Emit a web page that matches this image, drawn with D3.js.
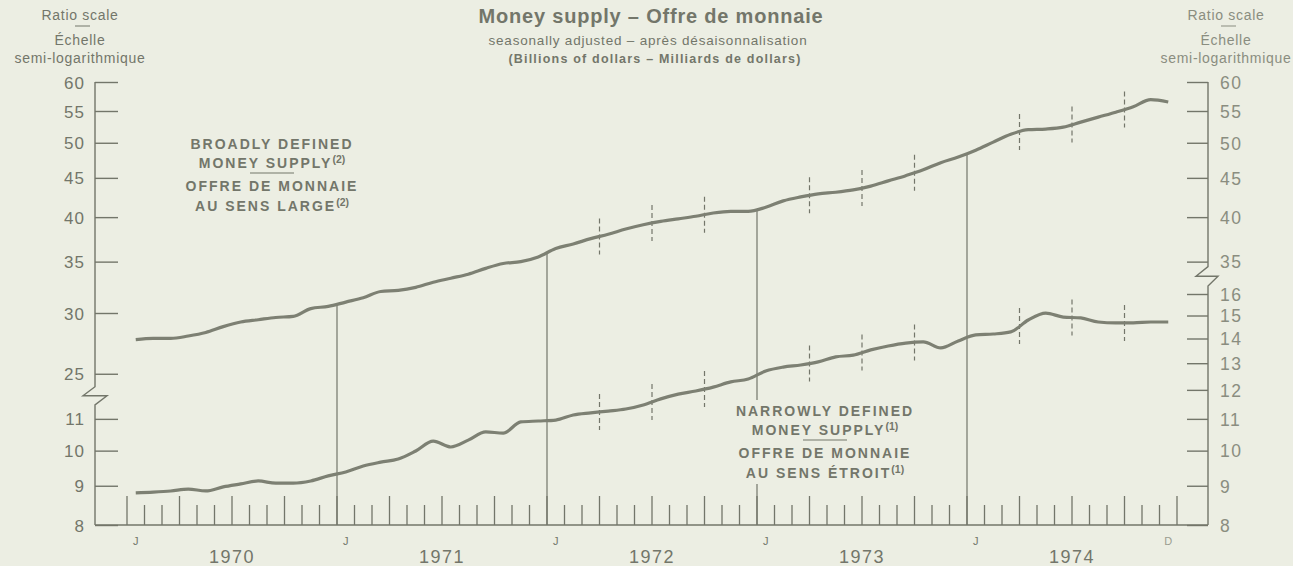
<!DOCTYPE html>
<html>
<head>
<meta charset="utf-8">
<script src="https://cdn.jsdelivr.net/npm/d3@7"></script>
<style>
  html, body { margin: 0; padding: 0; background: #eceee3; }
  svg { display: block; font-family: "Liberation Sans", Arial, sans-serif; }
</style>
</head>
<body>
<div id="chart"></div>
<script>
// monthly data, January 1970 to December 1974 (billions of dollars)
const years = [1970, 1971, 1972, 1973, 1974];
const monthLetters = ["J", "F", "M", "A", "M", "J", "J", "A", "S", "O", "N", "D"];

const broadValues = [
    27.7, 27.8, 27.8, 28.0, 28.3, 28.8, 29.2, 29.4, 29.6, 29.7, 30.4, 30.6,
    31.0, 31.4, 32.0, 32.1, 32.4, 32.9, 33.3, 33.7, 34.3, 34.8, 35.0, 35.5,
    36.4, 36.9, 37.5, 38.0, 38.6, 39.1, 39.5, 39.8, 40.1, 40.5, 40.7, 40.7,
    41.2, 42.0, 42.5, 42.9, 43.1, 43.4, 43.9, 44.6, 45.3, 46.1, 47.1, 47.9,
    48.9, 50.1, 51.3, 52.0, 52.1, 52.4, 53.2, 54.0, 54.8, 55.7, 56.9, 56.5
];
const narrowValues = [
    8.81, 8.83, 8.86, 8.91, 8.86, 8.97, 9.05, 9.13, 9.07, 9.07, 9.13, 9.27,
    9.38, 9.55, 9.66, 9.75, 9.99, 10.29, 10.11, 10.32, 10.58, 10.54, 10.90, 10.93,
    10.96, 11.13, 11.20, 11.26, 11.33, 11.47, 11.68, 11.85, 11.96, 12.10, 12.29, 12.40,
    12.70, 12.85, 12.93, 13.05, 13.25, 13.32, 13.53, 13.69, 13.81, 13.86, 13.61, 13.90,
    14.15, 14.19, 14.28, 14.80, 15.11, 14.93, 14.89, 14.71, 14.67, 14.67, 14.71, 14.71
];

// tick labels
const leftBroadTicks = [25, 30, 35, 40, 45, 50, 55, 60];
const leftNarrowTicks = [8, 9, 10, 11];
const rightBroadTicks = [35, 40, 45, 50, 55, 60];
const rightNarrowTicks = [8, 9, 10, 11, 12, 13, 14, 15, 16];

// quarter boundaries (month index) marked with dashes, and year boundaries with a rule
const dashedQuarters = [27, 30, 33, 39, 42, 45, 51, 54, 57];
const yearRules = [12, 24, 36, 48];

const width = 1293, height = 566;
const ink = "#73766a";
const lightInk = "#8a8d80";
const lineInk = "#7d8073";
const bg = "#eceee3";

const svg = d3.select("#chart").append("svg")
    .attr("width", width)
    .attr("height", height);

svg.append("rect").attr("width", width).attr("height", height).attr("fill", bg);

// scales: months on x, two ratio scales sharing the same doubling height
const x = d3.scaleLinear().domain([0, 60]).range([127, 1177]);
const yBroad = d3.scaleLog().domain([30, 60]).range([313, 82]);
const yNarrow = d3.scaleLog().domain([8, 16]).range([525, 294]);

const axisLeftX = 95, axisRightX = 1208;

// value on a quarter/year boundary, between two mid-month points
const atBoundary = (vals, k) => Math.sqrt(vals[k - 1] * vals[k]);

// ---------- axes ----------
const leftG = svg.append("g").attr("transform", `translate(${axisLeftX},0)`);
leftG.append("g").call(d3.axisLeft(yBroad).tickValues(leftBroadTicks)
    .tickSizeInner(-23).tickSizeOuter(0).tickPadding(10).tickFormat(d3.format("d")));
leftG.append("g").call(d3.axisLeft(yNarrow).tickValues(leftNarrowTicks)
    .tickSizeInner(-23).tickSizeOuter(0).tickPadding(10).tickFormat(d3.format("d")));

const rightG = svg.append("g").attr("transform", `translate(${axisRightX},0)`);
rightG.append("g").call(d3.axisRight(yBroad).tickValues(rightBroadTicks)
    .tickSizeInner(-21).tickSizeOuter(0).tickPadding(12).tickFormat(d3.format("d")));
rightG.append("g").call(d3.axisRight(yNarrow).tickValues(rightNarrowTicks)
    .tickSizeInner(-21).tickSizeOuter(0).tickPadding(12).tickFormat(d3.format("d")));

svg.selectAll(".domain").remove();
svg.selectAll(".tick line").attr("stroke", ink).attr("stroke-width", 1.4);
leftG.selectAll(".tick text").attr("fill", ink)
    .style("font-size", "17px").style("letter-spacing", "1px").attr("dy", "0.36em");
rightG.selectAll(".tick text").attr("fill", lightInk)
    .style("font-size", "17.5px").style("letter-spacing", "1.5px").attr("dy", "0.36em");

// axis spines with scale breaks
const spine = svg.append("g").attr("fill", "none").attr("stroke", ink).attr("stroke-width", 1.4);
const lBreakTop = yBroad(25) + 13, lBreakBot = yNarrow(11) - 14;
spine.append("path").attr("d",
    `M${axisLeftX},${yBroad(60)} V${lBreakTop} L${axisLeftX - 12},${(lBreakTop + lBreakBot) / 2} ` +
    `L${axisLeftX + 12},${(lBreakTop + lBreakBot) / 2} L${axisLeftX},${lBreakBot} V${yNarrow(8)}`);
const rBreakTop = yBroad(35) + 5, rBreakBot = yNarrow(16) - 8;
spine.append("path").attr("d",
    `M${axisRightX},${yBroad(60)} V${rBreakTop} L${axisRightX - 12},${(rBreakTop + rBreakBot) / 2} ` +
    `L${axisRightX + 10},${(rBreakTop + rBreakBot) / 2} L${axisRightX},${rBreakBot} V${yNarrow(8)}`);
spine.append("line")
    .attr("x1", axisLeftX).attr("x2", axisRightX)
    .attr("y1", yNarrow(8)).attr("y2", yNarrow(8));

// monthly ticks along the bottom, taller at each quarter
svg.append("g").selectAll("line")
    .data(d3.range(61))
    .join("line")
    .attr("x1", d => x(d)).attr("x2", d => x(d))
    .attr("y1", yNarrow(8))
    .attr("y2", d => yNarrow(8) - (d % 3 === 0 ? 29 : 20))
    .attr("stroke", ink).attr("stroke-width", 1.3);

// year rules up to the broad series
svg.append("g").selectAll("line")
    .data(yearRules)
    .join("line")
    .attr("x1", d => x(d)).attr("x2", d => x(d))
    .attr("y1", yNarrow(8))
    .attr("y2", d => yBroad(atBoundary(broadValues, d)))
    .attr("stroke", ink).attr("stroke-width", 1.2);

// dashed quarter marks crossing each series
const dashG = svg.append("g").attr("stroke", ink).attr("stroke-width", 1.2).attr("stroke-dasharray", "5,3");
[[broadValues, yBroad], [narrowValues, yNarrow]].forEach(([vals, y]) => {
    dashG.append("g").selectAll("line")
        .data(dashedQuarters)
        .join("line")
        .attr("x1", d => x(d)).attr("x2", d => x(d))
        .attr("y1", d => y(atBoundary(vals, d)) - 18)
        .attr("y2", d => y(atBoundary(vals, d)) + 18);
});

// ---------- series ----------
const lineBroad = d3.line().x((d, i) => x(i + 0.5)).y(d => yBroad(d)).curve(d3.curveMonotoneX);
const lineNarrow = d3.line().x((d, i) => x(i + 0.5)).y(d => yNarrow(d)).curve(d3.curveMonotoneX);

svg.append("path").datum(broadValues)
    .attr("d", lineBroad)
    .attr("fill", "none").attr("stroke", lineInk).attr("stroke-width", 3.2).attr("stroke-linejoin", "round");
svg.append("path").datum(narrowValues)
    .attr("d", lineNarrow)
    .attr("fill", "none").attr("stroke", lineInk).attr("stroke-width", 3.2).attr("stroke-linejoin", "round");

// ---------- x labels ----------
const xLab = svg.append("g").attr("fill", ink).attr("text-anchor", "middle");
xLab.selectAll("text.jan")
    .data(years)
    .join("text")
    .attr("class", "jan")
    .attr("x", (d, i) => x(i * 12 + 0.5))
    .attr("y", 545)
    .style("font-size", "11px")
    .text(monthLetters[0]);
xLab.append("text")
    .attr("x", x(59.5)).attr("y", 545)
    .style("font-size", "11px").attr("fill", "#9a9d90")
    .text(monthLetters[11]);
xLab.selectAll("text.year")
    .data(years)
    .join("text")
    .attr("class", "year")
    .attr("x", (d, i) => x(i * 12 + 6))
    .attr("y", 563)
    .style("font-size", "18px")
    .style("letter-spacing", "1.5px")
    .text(d => d);

// ---------- titles ----------
const titles = svg.append("g").attr("fill", ink).attr("text-anchor", "middle");
titles.append("text").attr("x", 651).attr("y", 23)
    .style("font-size", "20px").style("font-weight", "bold").style("letter-spacing", "0.8px")
    .text("Money supply – Offre de monnaie");
titles.append("text").attr("x", 648).attr("y", 45)
    .style("font-size", "13.5px").style("letter-spacing", "0.8px")
    .text("seasonally adjusted – après désaisonnalisation");
titles.append("text").attr("x", 655).attr("y", 63)
    .style("font-size", "12.5px").style("font-weight", "bold").style("letter-spacing", "1.2px")
    .text("(Billions of dollars – Milliards de dollars)");

function scaleHeader(cx, color) {
    const g = svg.append("g").attr("fill", color).attr("text-anchor", "middle")
        .style("font-size", "14px").style("letter-spacing", "0.7px");
    g.append("text").attr("x", cx).attr("y", 20).text("Ratio scale");
    g.append("line").attr("x1", cx - 5).attr("x2", cx + 10).attr("y1", 26).attr("y2", 26)
        .attr("stroke", color).attr("stroke-width", 1);
    g.append("text").attr("x", cx).attr("y", 45).text("Échelle");
    g.append("text").attr("x", cx).attr("y", 63).text("semi-logarithmique");
}
scaleHeader(80, ink);
scaleHeader(1226, lightInk);

// series labels, with a note marker and a rule between the languages
function seriesLabel(cx, top, lines, note, mask) {
    const g = svg.append("g");
    if (mask) {
        g.append("rect").attr("x", cx - 92).attr("y", top - 16).attr("width", 184).attr("height", 84).attr("fill", bg);
    }
    const t = g.append("g").attr("fill", ink).attr("text-anchor", "middle")
        .style("font-size", "14px").style("font-weight", "bold").style("letter-spacing", "2px");
    const gaps = [0, 19, 42, 62];
    lines.forEach((s, i) => {
        const txt = t.append("text").attr("x", cx).attr("y", top + gaps[i]).text(s);
        if (i === 1 || i === 3) {
            txt.append("tspan").attr("dy", -5).style("font-size", "10.5px").style("letter-spacing", "0px").text(note);
        }
    });
    g.append("line").attr("x1", cx - 22).attr("x2", cx + 22)
        .attr("y1", top + 24).attr("y2", top + 24)
        .attr("stroke", ink).attr("stroke-width", 1.2);
}
seriesLabel(272, 149, ["BROADLY DEFINED", "MONEY SUPPLY", "OFFRE DE MONNAIE", "AU SENS LARGE"], "(2)", false);
seriesLabel(825, 416, ["NARROWLY DEFINED", "MONEY SUPPLY", "OFFRE DE MONNAIE", "AU SENS ÉTROIT"], "(1)", true);
</script>
</body>
</html>
